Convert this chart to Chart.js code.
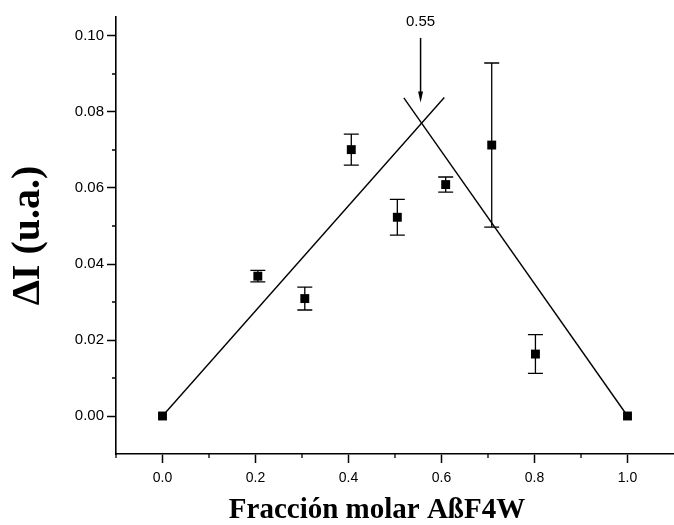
<!DOCTYPE html>
<html>
<head>
<meta charset="utf-8">
<script src="https://cdn.jsdelivr.net/npm/chart.js@4.4.1/dist/chart.umd.min.js"></script>
<style>
  html, body { margin: 0; padding: 0; background: #fff; }
</style>
</head>
<body>
<canvas id="myChart" width="674" height="525"></canvas>
<script>
// mole fraction of AßF4W and the measured intensity change
const fraccion = [0, 0.205, 0.306, 0.406, 0.505, 0.609, 0.708, 0.802, 1.0];
const deltaI = [0, 0.0368, 0.0309, 0.0701, 0.0523, 0.0609, 0.0713, 0.0163, 0];
const errorI = [0, 0.0015, 0.003, 0.0041, 0.0047, 0.002, 0.0216, 0.0051, 0];

// the two straight fits, they cross near 0.55
const fitUpX = [0, 0.606];
const fitUpY = [0, 0.0838];
const fitDownX = [0.519, 1.0];
const fitDownY = [0.0837, 0];

// arrow pointing at the crossing
const crossLabel = '0.55';
const crossX = 0.555;
const arrowFromY = 0.0995;
const arrowToY = 0.0825;
const labelY = 0.1038;

// tick values
const xMajor = [0, 0.2, 0.4, 0.6, 0.8, 1.0];
const xMinor = [-0.1, 0.1, 0.3, 0.5, 0.7, 0.9];
const yMajor = [0, 0.02, 0.04, 0.06, 0.08, 0.10];
const yMinor = [0.01, 0.03, 0.05, 0.07, 0.09];

const xTitle = 'Fracción molar AßF4W';
const yTitle = 'ΔI (u.a.)';

const toPoints = (xs, ys) => xs.map((v, i) => ({x: v, y: ys[i]}));

const errorBars = {
	id: 'errorBars',
	beforeDatasetsDraw(chart) {
		const {ctx, scales: {x, y}} = chart;
		ctx.save();
		ctx.strokeStyle = '#000';
		ctx.lineWidth = 1.3;
		fraccion.forEach((f, i) => {
			if (!errorI[i]) return;
			const px = x.getPixelForValue(f);
			const top = y.getPixelForValue(deltaI[i] + errorI[i]);
			const bot = y.getPixelForValue(deltaI[i] - errorI[i]);
			ctx.beginPath();
			ctx.moveTo(px, top);
			ctx.lineTo(px, bot);
			ctx.moveTo(px - 7.5, top);
			ctx.lineTo(px + 7.5, top);
			ctx.moveTo(px - 7.5, bot);
			ctx.lineTo(px + 7.5, bot);
			ctx.stroke();
		});
		ctx.restore();
	}
};

const crossArrow = {
	id: 'crossArrow',
	afterDatasetsDraw(chart) {
		const {ctx, scales: {x, y}} = chart;
		const px = x.getPixelForValue(crossX);
		const y0 = y.getPixelForValue(arrowFromY);
		const y1 = y.getPixelForValue(arrowToY);
		ctx.save();
		ctx.strokeStyle = '#000';
		ctx.fillStyle = '#000';
		ctx.lineWidth = 1.5;
		ctx.beginPath();
		ctx.moveTo(px, y0);
		ctx.lineTo(px, y1 - 8);
		ctx.stroke();
		ctx.beginPath();
		ctx.moveTo(px - 2.5, y1 - 11);
		ctx.lineTo(px + 2.5, y1 - 11);
		ctx.lineTo(px, y1);
		ctx.closePath();
		ctx.fill();
		ctx.font = '15px "Liberation Sans"';
		ctx.textAlign = 'center';
		ctx.textBaseline = 'middle';
		ctx.fillText(crossLabel, px, y.getPixelForValue(labelY));
		ctx.restore();
	}
};

// short unlabeled ticks between the labeled ones, plus the x title
// which sits a bit left of the plot centre in the original
const axisExtras = {
	id: 'axisExtras',
	afterDraw(chart) {
		const {ctx, chartArea, scales: {x, y}} = chart;
		ctx.save();
		ctx.strokeStyle = '#000';
		ctx.lineWidth = 1.3;
		ctx.beginPath();
		xMinor.forEach(v => {
			const px = x.getPixelForValue(v);
			ctx.moveTo(px, chartArea.bottom);
			ctx.lineTo(px, chartArea.bottom + 4);
		});
		yMinor.forEach(v => {
			const py = y.getPixelForValue(v);
			ctx.moveTo(chartArea.left, py);
			ctx.lineTo(chartArea.left - 4, py);
		});
		ctx.stroke();

		ctx.fillStyle = '#000';
		ctx.font = 'bold 29px "Liberation Serif"';
		ctx.textAlign = 'center';
		ctx.textBaseline = 'middle';
		ctx.fillText(xTitle, (chartArea.left + chartArea.right) / 2 - 18, chart.height - 14);
		ctx.restore();
	}
};

const ctx = document.getElementById('myChart').getContext('2d');

new Chart(ctx, {
	type: 'scatter',
	data: {
		datasets: [{
			label: 'ΔI',
			data: toPoints(fraccion, deltaI),
			pointStyle: 'rect',
			pointRadius: 6.3,
			backgroundColor: '#000',
			borderColor: '#000',
			borderWidth: 0
		}, {
			label: 'ajuste 1',
			data: toPoints(fitUpX, fitUpY),
			showLine: true,
			pointRadius: 0,
			borderColor: '#000',
			borderWidth: 1.4
		}, {
			label: 'ajuste 2',
			data: toPoints(fitDownX, fitDownY),
			showLine: true,
			pointRadius: 0,
			borderColor: '#000',
			borderWidth: 1.4
		}]
	},
	options: {
		responsive: false,
		animation: false,
		layout: {autoPadding: false, padding: {top: 17, right: 0, bottom: 0, left: 0}},
		plugins: {
			legend: {display: false},
			tooltip: {enabled: false}
		},
		scales: {
			x: {
				type: 'linear',
				min: -0.1,
				max: 1.1,
				afterBuildTicks: s => { s.ticks = xMajor.map(v => ({value: v})); },
				afterFit: s => {
					s.height = 71;
					s.paddingLeft = 0;
					s.paddingRight = 0;
				},
				border: {display: true, color: '#000', width: 1.6},
				grid: {drawOnChartArea: false, tickLength: 9, tickWidth: 1.5, tickColor: '#000'},
				ticks: {
					color: '#000',
					font: {family: 'Liberation Sans', size: 14},
					padding: 7,
					maxRotation: 0,
					autoSkip: false,
					callback: v => v.toFixed(1)
				}
			},
			y: {
				type: 'linear',
				min: -0.01,
				max: 0.105,
				afterBuildTicks: s => { s.ticks = yMajor.map(v => ({value: v})); },
				afterFit: s => {
					s.width = 116;
					s.paddingTop = 0;
					s.paddingBottom = 0;
				},
				border: {display: true, color: '#000', width: 1.6},
				grid: {drawOnChartArea: false, tickLength: 9, tickWidth: 1.5, tickColor: '#000'},
				ticks: {
					color: '#000',
					font: {family: 'Liberation Sans', size: 15},
					padding: 3,
					autoSkip: false,
					callback: v => v.toFixed(2)
				},
				title: {
					display: true,
					text: yTitle,
					color: '#000',
					font: {family: 'Liberation Serif', size: 40, weight: 'bold', lineHeight: 1.2},
					padding: {top: 5, bottom: 0}
				}
			}
		}
	},
	plugins: [errorBars, crossArrow, axisExtras]
});
</script>
</body>
</html>
